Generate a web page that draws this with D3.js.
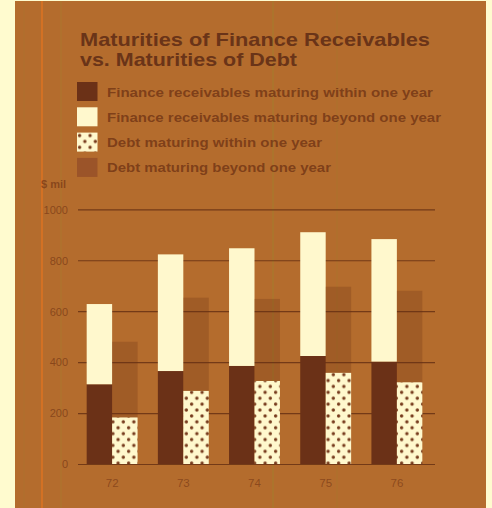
<!DOCTYPE html>
<html>
<head>
<meta charset="utf-8">
<script src="https://cdn.jsdelivr.net/npm/d3@7"></script>
<style>
  html, body { margin: 0; padding: 0; background: #fffbcf; }
  svg { display: block; }
</style>
</head>
<body>
<svg id="chart" width="492" height="508"></svg>
<script>
// Fiscal years shown on the x axis
const years = ["72", "73", "74", "75", "76"];
// Finance receivables ($ millions)
const frWithin = [313, 365, 385, 424, 402];
const frBeyond = [315, 458, 462, 486, 481];
// Debt ($ millions)
const debtWithin = [183, 287, 326, 358, 321];
const debtBeyond = [297, 366, 322, 338, 359];
// Y axis ticks
const yTicks = [0, 200, 400, 600, 800, 1000];

const legendLabels = [
  "Finance receivables maturing within one year",
  "Finance receivables maturing beyond one year",
  "Debt maturing within one year",
  "Debt maturing beyond one year"
];

const W = 492, H = 508;
const panelBg = "#b46c2d";
const darkBrown = "#6b3117";
const cream = "#fff8cd";
const inkTitle = "#6a3418";
const inkText = "#783a17";

const svg = d3.select("#chart");
const defs = svg.append("defs");

// Staggered dot fill for "debt within one year"
const pat = defs.append("pattern")
  .attr("id", "dots")
  .attr("patternUnits", "userSpaceOnUse")
  .attr("width", 10.5).attr("height", 11.8);
pat.append("rect").attr("width", 10.5).attr("height", 11.8).attr("fill", cream);
pat.append("circle").attr("cx", 2.6).attr("cy", 3).attr("r", 1.7).attr("fill", "#763a1c");
pat.append("circle").attr("cx", 7.85).attr("cy", 8.9).attr("r", 1.7).attr("fill", "#763a1c");

// Brown panel
svg.append("rect").attr("x", 15).attr("y", 1).attr("width", 471).attr("height", H)
  .attr("fill", panelBg);

// Faint vertical print lines across the panel
const printLines = [
  {x: 42, c: "#e8761e", o: 0.85, w: 1.4},
  {x: 24, c: "#a07a30", o: 0.35, w: 1},
  {x: 61, c: "#a08a30", o: 0.4, w: 1},
  {x: 273, c: "#9a8a2c", o: 0.55, w: 1},
  {x: 337, c: "#9a8a2c", o: 0.25, w: 1}
];
svg.append("g").selectAll("line").data(printLines).join("line")
  .attr("x1", d => d.x).attr("x2", d => d.x)
  .attr("y1", 1).attr("y2", H)
  .attr("stroke", d => d.c).attr("stroke-opacity", d => d.o)
  .attr("stroke-width", d => d.w);

// Title
const title = svg.append("g")
  .attr("font-family", "'Liberation Sans', Arial, sans-serif")
  .attr("font-weight", "bold")
  .attr("font-size", 19)
  .attr("fill", inkTitle);
title.append("text").attr("x", 80).attr("y", 45.5)
  .attr("textLength", 350).attr("lengthAdjust", "spacingAndGlyphs")
  .text("Maturities of Finance Receivables");
title.append("text").attr("x", 80).attr("y", 65.5)
  .attr("textLength", 217).attr("lengthAdjust", "spacingAndGlyphs")
  .text("vs. Maturities of Debt");

// Legend
const legendFills = [darkBrown, cream, "url(#dots)", "#9b5429"];
const legendWidths = [326, 334, 215, 224];
const legend = svg.append("g");
const lg = legend.selectAll("g").data(legendLabels).join("g")
  .attr("transform", (d, i) => `translate(77, ${82 + i * 25.3})`);
lg.append("rect").attr("width", 20.5).attr("height", 19)
  .attr("fill", (d, i) => legendFills[i]);
lg.append("text")
  .attr("x", 30).attr("y", 14.5)
  .attr("font-family", "'Liberation Sans', Arial, sans-serif")
  .attr("font-weight", "bold")
  .attr("font-size", 13)
  .attr("fill", inkText)
  .attr("fill-opacity", 0.9)
  .attr("textLength", (d, i) => legendWidths[i])
  .attr("lengthAdjust", "spacingAndGlyphs")
  .text(d => d);

// Scales
const y = d3.scaleLinear().domain([0, 1000]).range([464, 209.3]);
const x = d3.scaleBand().domain(years).range([76, 433])
  .paddingInner(0.285).paddingOuter(0.15);
const half = x.bandwidth() / 2;

// Y axis: gridlines + labels
const yAxis = d3.axisLeft(y).tickValues(yTicks).tickSize(-(435 - 78)).tickPadding(10)
  .tickFormat(d3.format("d"));
const gy = svg.append("g").attr("transform", "translate(78,0)").call(yAxis);
gy.select(".domain").remove();
gy.selectAll(".tick line").attr("stroke", "#5e2a10").attr("stroke-width", 1.2)
  .attr("stroke-opacity", 0.75);
gy.selectAll(".tick text")
  .attr("font-family", "'Liberation Sans', Arial, sans-serif")
  .attr("font-size", 11).attr("fill", "#7a3a16").attr("fill-opacity", 0.75)
  .attr("dy", "0.35em");

// Unit label
svg.append("text").attr("x", 41).attr("y", 188)
  .attr("font-family", "'Liberation Sans', Arial, sans-serif")
  .attr("font-size", 11).attr("font-weight", "bold")
  .attr("fill", "#7a3a16").attr("fill-opacity", 0.75)
  .text("$ mil");

// X axis labels
const xAxis = d3.axisBottom(x).tickSize(0).tickPadding(0);
const gx = svg.append("g").attr("transform", "translate(0,479)").call(xAxis);
gx.select(".domain").remove();
gx.selectAll(".tick text")
  .attr("font-family", "'Liberation Sans', Arial, sans-serif")
  .attr("font-size", 11.5).attr("fill", "#7a3a16").attr("fill-opacity", 0.7);

// Bars
const bars = svg.append("g");
years.forEach((yr, i) => {
  const x0 = x(yr);
  // Finance receivables: within (dark) stacked with beyond (cream)
  bars.append("rect")
    .attr("x", x0).attr("width", half)
    .attr("y", y(frWithin[i])).attr("height", y(0) - y(frWithin[i]))
    .attr("fill", darkBrown);
  bars.append("rect")
    .attr("x", x0).attr("width", half)
    .attr("y", y(frWithin[i] + frBeyond[i]))
    .attr("height", y(frWithin[i]) - y(frWithin[i] + frBeyond[i]))
    .attr("fill", cream);
  // Debt: within (dotted) stacked with beyond (translucent brown)
  bars.append("rect")
    .attr("x", x0 + half).attr("width", half)
    .attr("y", y(debtWithin[i])).attr("height", y(0) - y(debtWithin[i]))
    .attr("fill", "url(#dots)");
  bars.append("rect")
    .attr("x", x0 + half).attr("width", half)
    .attr("y", y(debtWithin[i] + debtBeyond[i]))
    .attr("height", y(debtWithin[i]) - y(debtWithin[i] + debtBeyond[i]))
    .attr("fill", "#6a2e12").attr("fill-opacity", 0.26);
});
</script>
</body>
</html>
